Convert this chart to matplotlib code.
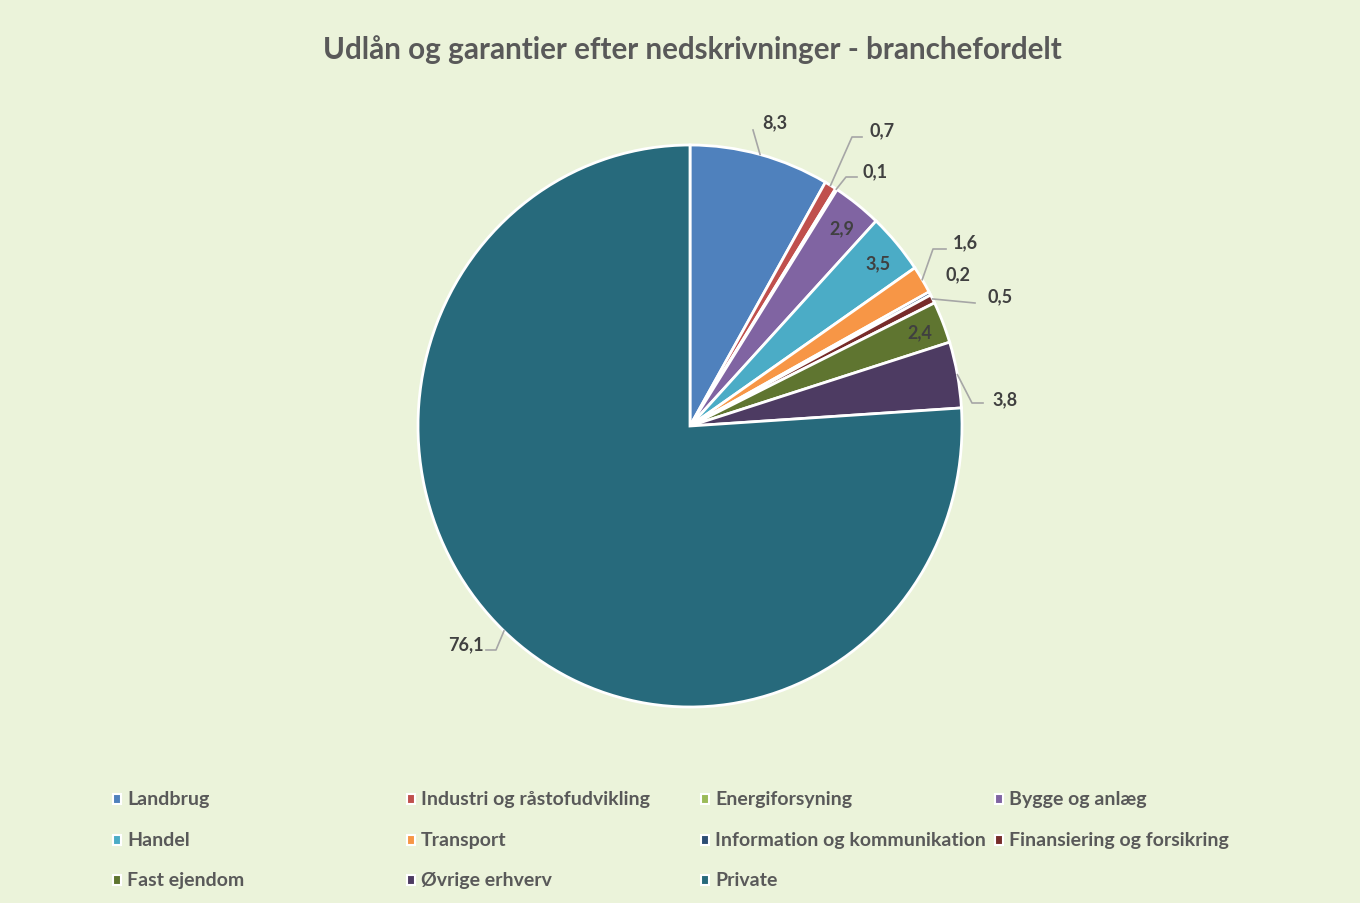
import numpy as np
import matplotlib.pyplot as plt
from matplotlib.patches import Rectangle

categories = ['Landbrug', 'Industri og råstofudvikling', 'Energiforsyning', 'Bygge og anlæg',
              'Handel', 'Transport', 'Information og kommunikation', 'Finansiering og forsikring',
              'Fast ejendom', 'Øvrige erhverv', 'Private']
values = [8.3, 0.7, 0.1, 2.9, 3.5, 1.6, 0.2, 0.5, 2.4, 3.8, 76.1]
colors = ['#4F81BD', '#C0504D', '#9BBB59', '#8064A2', '#4BACC6', '#F79646',
          '#2C4D75', '#772C2A', '#5F7530', '#4D3B62', '#276A7C']

# label positions in pixels (from top-left), tail = leader line points after the wedge edge
label_px = [(775, 123), (882, 131), (875, 172), (842, 229), (878, 264), (965, 243),
            (958, 275), (1000, 297), (920, 333), (1005, 400), (466, 645)]
label_tail = [[(753, 131)], [(852, 138), (862, 138)], [(846, 178), (857, 178)], None, None,
              [(933, 250), (946, 250)], None, [(975, 304)], None,
              [(972, 404), (983, 404)], [(496, 651), (486, 651)]]

bg = '#EBF3DA'
txt = '#404040'
plt.rcParams['font.family'] = ['Lato', 'DejaVu Sans']

fig = plt.figure(figsize=(13.6, 9.04), dpi=100, facecolor=bg)
W, H = 1360, 904
cx, cy, rx, ry = 690, 427, 272, 281
ax = fig.add_axes([(cx - rx) / W, (H - cy - ry) / H, 2 * rx / W, 2 * ry / H])
ax.set_facecolor(bg)
ax.axis('off')

wedges, _ = ax.pie(values, colors=colors, startangle=90, counterclock=False, radius=1,
                   wedgeprops=dict(edgecolor='white', linewidth=2))
ax.set_xlim(-1, 1)
ax.set_ylim(-1, 1)
ax.set_aspect('auto')


def to_data(p):
    return ((p[0] - cx) / rx, (cy - p[1]) / ry)


for w, v, pos, tail in zip(wedges, values, label_px, label_tail):
    lab = ('%.1f' % v).replace('.', ',')
    x, y = to_data(pos)
    ax.text(x, y, lab, ha='center', va='center', fontsize=13,
            fontweight='bold', color=txt, clip_on=False)
    if tail is None:
        continue
    th = np.deg2rad((w.theta1 + w.theta2) / 2)
    pts = [(np.cos(th), np.sin(th))] + [to_data(p) for p in tail]
    xs, ys = zip(*pts)
    ax.plot(xs, ys, color='#A6A6A6', lw=1.2, clip_on=False)

fig.text(0.509, 1 - 50 / H, 'Udlån og garantier efter nedskrivninger - branchefordelt',
         ha='center', va='center', fontsize=21.3, fontweight='bold', color='#595959')

# legend, 4 columns
col_x = [117, 411, 705, 999]
row_y = [800, 841, 881]
for i, (name, c) in enumerate(zip(categories, colors)):
    x = col_x[i % 4]
    y = row_y[i // 4]
    fig.patches.append(Rectangle(((x - 4) / W, (H - y - 5) / H), 8 / W, 10 / H,
                                 transform=fig.transFigure, facecolor=c,
                                 edgecolor='white', linewidth=1.5))
    fig.text((x + 10) / W, 1 - y / H, name, ha='left', va='center', fontsize=14,
             fontweight='bold', color='#595959')

fig.savefig('out.png', dpi=100, facecolor=bg)
